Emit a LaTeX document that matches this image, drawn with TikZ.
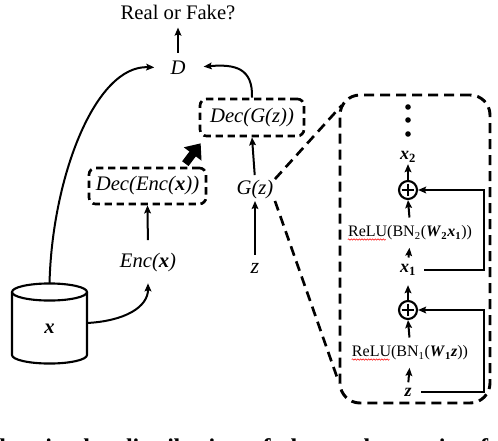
\documentclass[tikz,border=0pt]{standalone}
\usepackage{fontspec}
\setmainfont{Liberation Serif}
\usetikzlibrary{arrows.meta,decorations.pathmorphing,calc}
\newcommand{\bxi}[1]{\textbf{\textit{#1}}}
\newcommand{\bsb}[1]{\textsubscript{\textbf{#1}}}
\begin{document}
\begin{tikzpicture}[x=0.75pt,y=0.75pt,
  lbl/.style={font=\fontsize{15.5}{18}\selectfont, inner sep=1pt},
  inlbl/.style={font=\fontsize{13.5}{15}\selectfont, inner sep=1pt},
  relu/.style={font=\fontsize{12}{14}\selectfont, inner sep=1pt},
  arr/.style={line width=1.5pt, -{Stealth[length=6pt,width=5pt,inset=1pt]}},
  dbox/.style={draw, font=\fontsize{15.5}{18}\selectfont, line width=2pt, dash pattern=on 5.5pt off 3.5pt, rounded corners=5pt, inner sep=2pt},
  bigbox/.style={draw, line width=2.2pt, dash pattern=on 7.5pt off 4.5pt, rounded corners=15pt},
  dline/.style={line width=2pt, dash pattern=on 7.5pt off 4.5pt},
  cyl/.style={line width=1.6pt},
  dotn/.style={circle, fill, inner sep=0pt, minimum size=4.2pt},
  oplus/.style={circle, draw, line width=1.6pt, minimum size=13.5pt, inner sep=0pt,
    path picture={\draw[line width=1.3pt] ([yshift=-2pt]path picture bounding box.north) -- ([yshift=2pt]path picture bounding box.south);
                  \draw[line width=1.3pt] ([xshift=2pt]path picture bounding box.west) -- ([xshift=-2pt]path picture bounding box.east);}},
  squig/.style={red, line width=0.4pt, decorate, decoration={snake, amplitude=0.5pt, segment length=2pt}}
]
\clip (0,0) rectangle (498,440);
\useasboundingbox (0,0) rectangle (498,440);

% left part
\node[lbl] (rf) at (178,428) {Real or Fake?};
\node[lbl] (D) at (178,372) {\textit{D}};
\node[dbox, minimum width=78pt, minimum height=27.75pt] (decg) at (252,322.5) {\textit{Dec(G(z))}};
\node[lbl] (Gz) at (255,250) {\textit{G(z)}};
\node[lbl, font=\fontsize{16.5}{18}\selectfont] (z) at (255,172) {\textit{z}};
\node[dbox, minimum width=87.75pt, minimum height=27pt] (dece) at (147.5,254) {\textit{Dec(Enc(\textbf{x}))}};
\node[lbl] (enc) at (148,177) {\textit{Enc(\textbf{x})}};

% cylinder
\draw[cyl] (12,148) -- (12,85) arc[start angle=180, end angle=360, x radius=28.125pt, y radius=6.4pt] -- (87,148);
\draw[cyl] (49.5,148) ellipse [x radius=28.125pt, y radius=6.4pt];
\coordinate (cyltop) at (49.5,156.5);
\coordinate (cylright) at (87,117);
\node[lbl] (xdb) at (49.5,111) {\bxi{x}};

% connectors
\draw[arr, shorten <=5pt, shorten >=5pt] (D.north) -- (rf.south);
\draw[arr, shorten >=11pt] (cyltop) .. controls (52,262) and (95,375) .. (D.west);
\draw[arr, shorten >=12.5pt] (decg.north) .. controls (253,372) and (235,376) .. (D.east);
\draw[arr, shorten <=3pt] (Gz.north) -- (decg.south);
\draw[arr, shorten <=5pt] (z.north) -- (Gz.south);
\draw[arr, shorten <=9pt] (enc.north) -- (dece.south);
\draw[arr] (cylright) .. controls (125,119) and (148,133) .. ([yshift=-7pt]enc.south);
\draw[line width=6pt, -{Triangle[length=10pt,width=16pt]}] ($(dece.north east)+(-22,3)$) -- ($(decg.south west)+(2,-6)$);

% expanded block
\node[bigbox, minimum width=112.5pt, minimum height=231pt] (big) at (415,191) {};
\draw[dline] (Gz.north east) -- ($(big.north west)+(3,-12)$);
\draw[dline] (Gz.south east) -- ($(big.south west)+(0,23)$);

\node[dotn] (d1) at (408,333) {};
\node[dotn] (d2) at (408,320) {};
\node[dotn] (d3) at (408,306) {};
\node[inlbl] (x2) at (408,283) {\bxi{x}\bsb{2}};
\node[oplus] (c2) at (408,250) {};
\node[relu] (r2) at (410,207) {ReLU(BN\textsubscript{2}(\bxi{W}\bsb{2}\bxi{x}\bsb{1}))};
\node[inlbl] (x1) at (408,170) {\bxi{x}\bsb{1}};
\node[oplus] (c1) at (408,130) {};
\node[relu] (r1) at (410,87) {ReLU(BN\textsubscript{1}(\bxi{W}\bsb{1}\bxi{z}))};
\node[inlbl] (zz) at (408,48) {\bxi{z}};
\coordinate (rr) at (484,0);

\draw[arr] (c2.north) -- (x2.south);
\draw[arr, shorten <=5pt] (r2.north) -- (c2.south);
\draw[arr, shorten <=4pt, shorten >=4.5pt] (x1.north) -- (r2.south);
\draw[arr, shorten >=6pt] (c1.north) -- (x1.south);
\draw[arr, shorten <=5pt] (r1.north) -- (c1.south);
\draw[arr, shorten <=3pt, shorten >=4.5pt] (zz.north) -- (r1.south);

\draw[arr] ([xshift=5pt]x1.east) -- (x1.east -| rr) |- (c2.east);
\draw[arr] ([xshift=6pt]zz.east) -- (zz.east -| rr) |- (c1.east);

\draw[squig] ([xshift=1pt,yshift=-2pt]r2.base west) -- ++(38,0);
\draw[squig] ([xshift=1pt,yshift=-2pt]r1.base west) -- ++(38,0);

% cropped caption line
\node[font=\fontsize{18}{20}\selectfont\bfseries, anchor=base west, inner sep=0pt] (cap) at (-1,-15)
  {\spaceskip=7.5pt less in the\hspace{9pt}distribution of\hspace{9pt}the\hspace{12pt}real ones\hspace{10pt}in\hspace{16pt}f};
\end{tikzpicture}
\end{document}
